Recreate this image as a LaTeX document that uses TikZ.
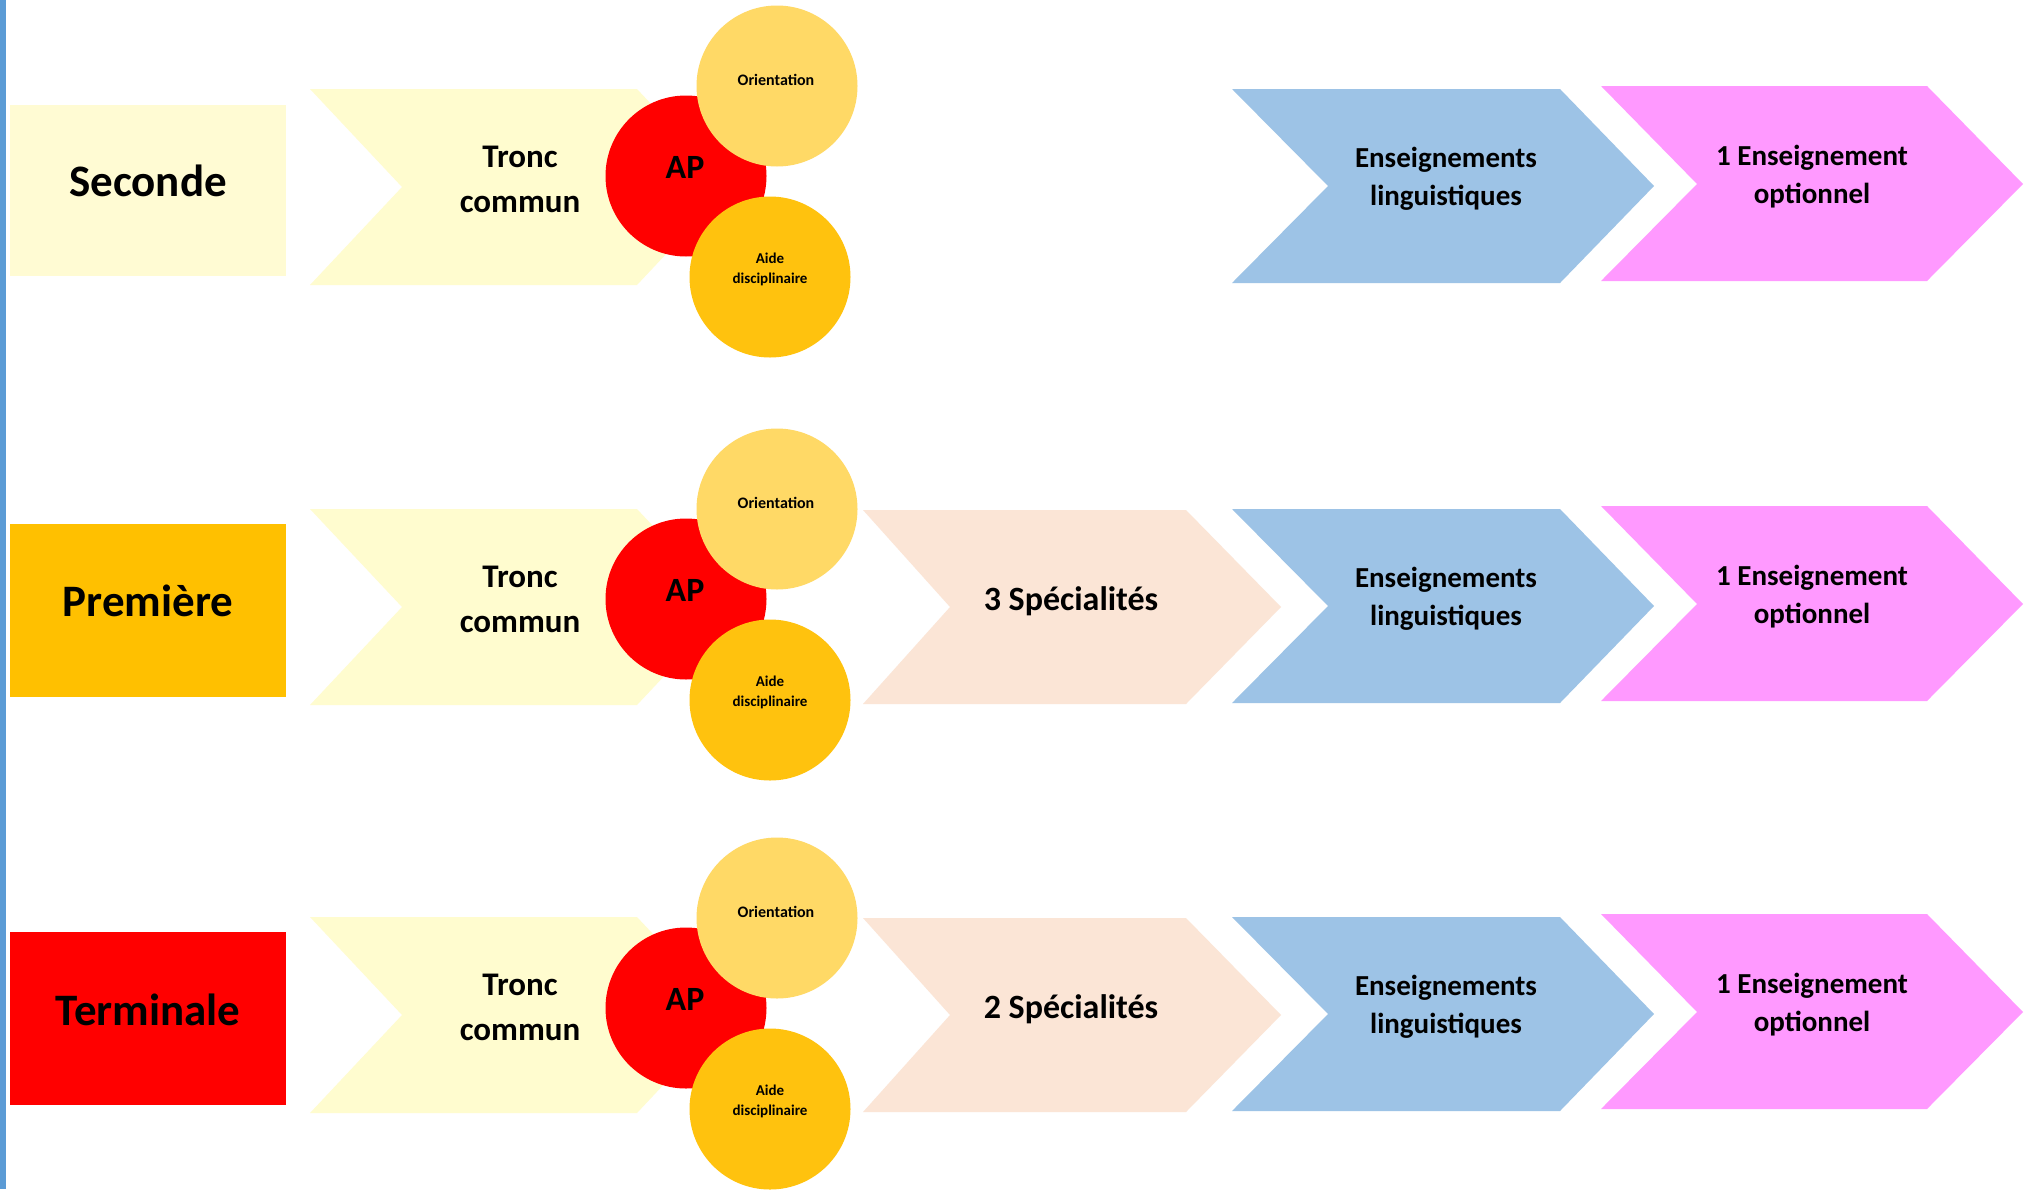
\documentclass[tikz,border=0pt]{standalone}
\usepackage{fontspec}
\setmainfont{Carlito}
\definecolor{stripe}{HTML}{5B9BD5}
\definecolor{pale}{HTML}{FFFBD3}
\definecolor{tronc}{HTML}{FFFCCF}
\definecolor{gold}{HTML}{FFC000}
\definecolor{apred}{HTML}{FF0000}
\definecolor{orient}{HTML}{FFD966}
\definecolor{aide}{HTML}{FFC20E}
\definecolor{spec}{HTML}{FBE5D6}
\definecolor{ling}{HTML}{9DC3E6}
\definecolor{opt}{HTML}{FF99FF}
\newcommand\fsz[1]{\fontsize{#1}{#1}\selectfont}
\tikzset{
  lbl/.style={anchor=base, inner sep=0pt, font=\bfseries},
  disc/.style={circle, inner sep=0pt, minimum size=161pt, draw=none},
  boxlbl/.style={lbl, font=\bfseries\fsz{45}},
  bigtxt/.style={lbl, font=\bfseries\fsz{33}},
  midtxt/.style={lbl, font=\bfseries\fsz{29}},
  smalltxt/.style={lbl, font=\bfseries\fsz{16}},
  tinytxt/.style={lbl, font=\bfseries\fsz{15}},
}
% common part of a row: #1 suffix, #2 vertical offset, #3 extra offset of the circles
\newcommand\lrow[3]{%
\begin{scope}[yshift=-#2pt]
  \fill[tronc] (310,89) -- (637,89) -- (729,187) -- (637,285) -- (310,285) -- (402,187) -- cycle;
  \node[bigtxt] (tca#1) at (520,167) {Tronc};
  \node[bigtxt] (tcb#1) at (520,212) {commun};
  \begin{scope}[yshift=-#3pt]
    \node[disc, fill=apred] (ap#1) at (686,176) {};
    \node[disc, fill=orient] (or#1) at (777,86) {};
    \node[disc, fill=aide] (ai#1) at (770,277) {};
    \node[lbl, font=\bfseries\fsz{34}] (apt#1) at (685,178) {AP};
    \node[smalltxt] (ort#1) at (776,85) {Orientation};
    \node[tinytxt] (aia#1) at (770,263) {Aide};
    \node[tinytxt] (aib#1) at (770,283) {disciplinaire};
  \end{scope}
  \fill[ling] (1232,89) -- (1560,89) -- (1654,186) -- (1560,283) -- (1232,283) -- (1328,186) -- cycle;
  \node[midtxt] (lia#1) at (1446,167) {Enseignements};
  \node[midtxt] (lib#1) at (1446,205) {linguistiques};
  \fill[opt] (1601,86) -- (1927,86) -- (2023,184) -- (1927,281) -- (1601,281) -- (1697,184) -- cycle;
  \node[midtxt] (opa#1) at (1812,165) {1 Enseignement};
  \node[midtxt] (opb#1) at (1812,203) {optionnel};
\end{scope}}
\newcommand\lspec[3]{%
\begin{scope}[yshift=-#2pt]
  \fill[spec] (863,90) -- (1186,90) -- (1281,187) -- (1186,284) -- (863,284) -- (950,187) -- cycle;
  \node[lbl, font=\bfseries\fsz{34}] (sp#1) at (1071,190) {#3};
\end{scope}}
\begin{document}
\begin{tikzpicture}[x=1pt, y=-1pt]
  \useasboundingbox (0,0) rectangle (2036,1189);
  \fill[white] (0,0) rectangle (2036,1189);
  \fill[stripe] (0,0) rectangle (6,1189);
  % row 1
  \fill[pale] (10,105) rectangle (286,276);
  \node[boxlbl] (sec) at (148,196) {Seconde};
  \lrow{1}{0}{0}
  % row 2
  \fill[gold] (10,524) rectangle (286,697);
  \node[boxlbl] (pre) at (148,616) {Première};
  \lspec{2}{420}{3 Spécialités}
  \lrow{2}{420}{3}
  % row 3
  \fill[apred] (10,932) rectangle (286,1105);
  \node[boxlbl] (ter) at (148,1025) {Terminale};
  \lspec{3}{828}{2 Spécialités}
  \lrow{3}{828}{4}
\end{tikzpicture}
\end{document}
